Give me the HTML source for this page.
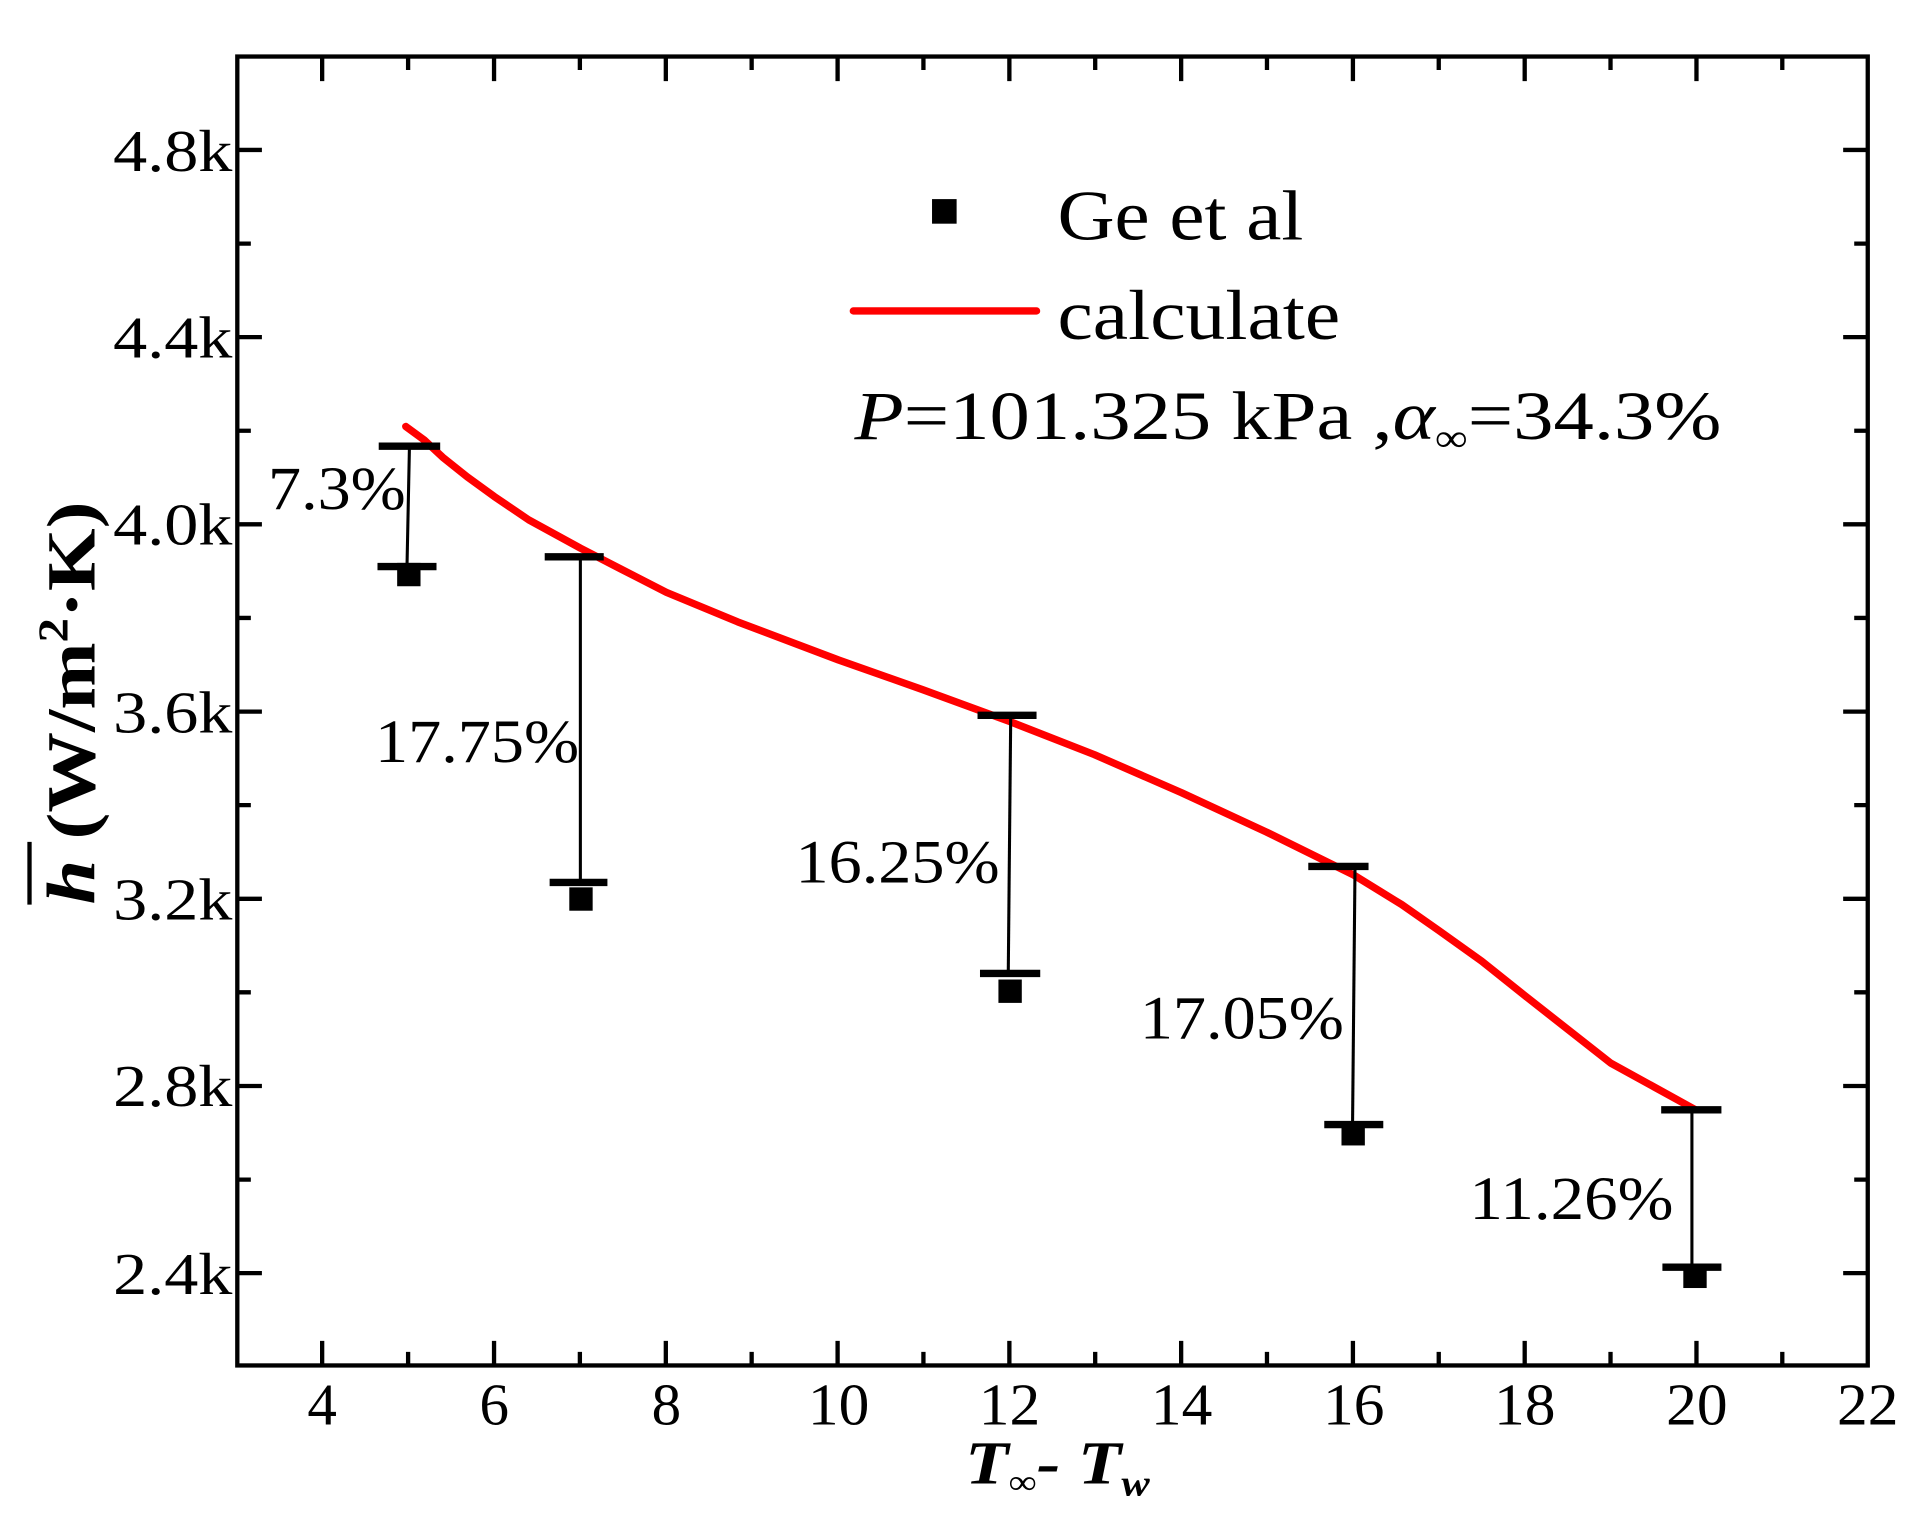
<!DOCTYPE html>
<html><head><meta charset="utf-8"><style>
html,body{margin:0;padding:0;background:#fff;}
svg{display:block;}
text{font-family:"Liberation Serif","Times New Roman",serif;fill:#000;}
</style></head><body>
<svg width="1928" height="1524" viewBox="0 0 1568 1240" preserveAspectRatio="none" xmlns="http://www.w3.org/2000/svg" font-family="Liberation Serif, Times New Roman, serif">
<rect width="1568" height="1240" fill="#fff"/>
<rect x="193" y="46" width="1326" height="1065" fill="none" stroke="#000" stroke-width="3.5"/>
<g stroke="#000" stroke-width="3.5">
<path d="M262 1111v-20M401.8 1111v-20M541.5 1111v-20M681.2 1111v-20M820.9 1111v-20M960.6 1111v-20M1100.3 1111v-20M1240 1111v-20M1379.7 1111v-20
M331.9 1111v-11M471.6 1111v-11M611.3 1111v-11M751 1111v-11M890.7 1111v-11M1030.4 1111v-11M1170.1 1111v-11M1309.8 1111v-11M1449.5 1111v-11
M262 46v20M401.8 46v20M541.5 46v20M681.2 46v20M820.9 46v20M960.6 46v20M1100.3 46v20M1240 46v20M1379.7 46v20
M331.9 46v11M471.6 46v11M611.3 46v11M751 46v11M890.7 46v11M1030.4 46v11M1170.1 46v11M1309.8 46v11M1449.5 46v11
M193 122h20M193 274.3h20M193 426.6h20M193 579h20M193 731.3h20M193 883.6h20M193 1035.9h20
M193 198.2h11M193 350.5h11M193 502.8h11M193 655.1h11M193 807.4h11M193 959.8h11
M1519 122h-20M1519 274.3h-20M1519 426.6h-20M1519 579h-20M1519 731.3h-20M1519 883.6h-20M1519 1035.9h-20
M1519 198.2h-11M1519 350.5h-11M1519 502.8h-11M1519 655.1h-11M1519 807.4h-11M1519 959.8h-11"/>
</g>
<g font-size="48" text-anchor="end">
<text x="189" y="139" textLength="97" lengthAdjust="spacingAndGlyphs">4.8k</text>
<text x="189" y="291" textLength="97" lengthAdjust="spacingAndGlyphs">4.4k</text>
<text x="189" y="443" textLength="97" lengthAdjust="spacingAndGlyphs">4.0k</text>
<text x="189" y="596" textLength="97" lengthAdjust="spacingAndGlyphs">3.6k</text>
<text x="189" y="748" textLength="97" lengthAdjust="spacingAndGlyphs">3.2k</text>
<text x="189" y="900" textLength="97" lengthAdjust="spacingAndGlyphs">2.8k</text>
<text x="189" y="1053" textLength="97" lengthAdjust="spacingAndGlyphs">2.4k</text>
</g>
<g font-size="48" text-anchor="middle">
<text x="262" y="1159" textLength="24" lengthAdjust="spacingAndGlyphs">4</text><text x="402" y="1159" textLength="24" lengthAdjust="spacingAndGlyphs">6</text><text x="542" y="1159" textLength="24" lengthAdjust="spacingAndGlyphs">8</text>
<text x="682" y="1159" textLength="50" lengthAdjust="spacingAndGlyphs">10</text><text x="821" y="1159" textLength="50" lengthAdjust="spacingAndGlyphs">12</text><text x="961" y="1159" textLength="50" lengthAdjust="spacingAndGlyphs">14</text>
<text x="1101" y="1159" textLength="50" lengthAdjust="spacingAndGlyphs">16</text><text x="1240" y="1159" textLength="50" lengthAdjust="spacingAndGlyphs">18</text><text x="1380" y="1159" textLength="50" lengthAdjust="spacingAndGlyphs">20</text><text x="1519" y="1159" textLength="50" lengthAdjust="spacingAndGlyphs">22</text>
</g>
<text x="785" y="1207" font-size="50" font-weight="bold" font-style="italic" textLength="150" lengthAdjust="spacingAndGlyphs">T<tspan font-size="28" dy="8" font-style="normal" font-weight="normal">∞</tspan><tspan dy="-8">- T</tspan><tspan font-size="30" dy="10">w</tspan></text>
<g transform="translate(77,572) rotate(-90)">
<text x="0" y="0" text-anchor="middle" font-size="56" font-weight="bold" textLength="328" lengthAdjust="spacingAndGlyphs"><tspan font-style="italic">h</tspan> (W/m<tspan font-size="34" dy="-22">2</tspan><tspan dy="22">·K)</tspan></text>
</g>
<line x1="24" y1="685" x2="24" y2="736" stroke="#000" stroke-width="3.5"/>
<path d="M330 347 L345 358 L360 372 L380 388 L402 404 L430 423 L472 446 L505 463 L542 482 L600 506 L682 537 L750 561 L821 587 L890 614 L961 645 L1030 677 L1101 712 L1140 736 L1170 757 L1205 782 L1240 810 L1310 865 L1379 903" fill="none" stroke="#ff0000" stroke-width="6" stroke-linejoin="round" stroke-linecap="round"/>
<g stroke="#000">
<line x1="333" y1="363" x2="331" y2="461" stroke-width="2.5"/>
<line x1="308" y1="363" x2="358" y2="363" stroke-width="6"/>
<line x1="307" y1="461" x2="355" y2="461" stroke-width="6"/>
<line x1="472" y1="453" x2="472" y2="718" stroke-width="2.5"/>
<line x1="443" y1="453" x2="491" y2="453" stroke-width="6"/>
<line x1="447" y1="718" x2="494" y2="718" stroke-width="6"/>
<line x1="822" y1="582" x2="820" y2="792" stroke-width="2.5"/>
<line x1="795" y1="582" x2="843" y2="582" stroke-width="6"/>
<line x1="797" y1="792" x2="846" y2="792" stroke-width="6"/>
<line x1="1102" y1="705" x2="1100" y2="915" stroke-width="2.5"/>
<line x1="1064" y1="705" x2="1113" y2="705" stroke-width="6"/>
<line x1="1077" y1="915" x2="1125" y2="915" stroke-width="6"/>
<line x1="1376" y1="903" x2="1376" y2="1031" stroke-width="2.5"/>
<line x1="1351" y1="903" x2="1400" y2="903" stroke-width="6"/>
<line x1="1352" y1="1031" x2="1400" y2="1031" stroke-width="6"/>
</g>
<g fill="#000">
<rect x="323" y="458" width="19" height="19"/>
<rect x="463" y="722" width="19" height="19"/>
<rect x="812" y="797" width="19" height="19"/>
<rect x="1091" y="913" width="19" height="19"/>
<rect x="1369" y="1029" width="19" height="19"/>
</g>
<g font-size="50">
<text x="218" y="414" textLength="112" lengthAdjust="spacingAndGlyphs">7.3%</text>
<text x="305" y="620" textLength="166" lengthAdjust="spacingAndGlyphs">17.75%</text>
<text x="647" y="718" textLength="166" lengthAdjust="spacingAndGlyphs">16.25%</text>
<text x="927" y="845" textLength="166" lengthAdjust="spacingAndGlyphs">17.05%</text>
<text x="1195" y="992" textLength="166" lengthAdjust="spacingAndGlyphs">11.26%</text>
</g>
<rect x="758" y="162" width="20" height="20" fill="#000"/>
<text x="860" y="195" font-size="58" textLength="200" lengthAdjust="spacingAndGlyphs">Ge et al</text>
<line x1="694" y1="253" x2="843" y2="253" stroke="#ff0000" stroke-width="6" stroke-linecap="round"/>
<text x="860" y="276" font-size="58" textLength="230" lengthAdjust="spacingAndGlyphs">calculate</text>
<text x="695" y="357" font-size="56" textLength="705" lengthAdjust="spacingAndGlyphs"><tspan font-style="italic">P</tspan>=101.325 kPa ,<tspan font-style="italic">α</tspan><tspan font-size="32" dy="10">∞</tspan><tspan dy="-10">=34.3%</tspan></text>
</svg>
</body></html>
